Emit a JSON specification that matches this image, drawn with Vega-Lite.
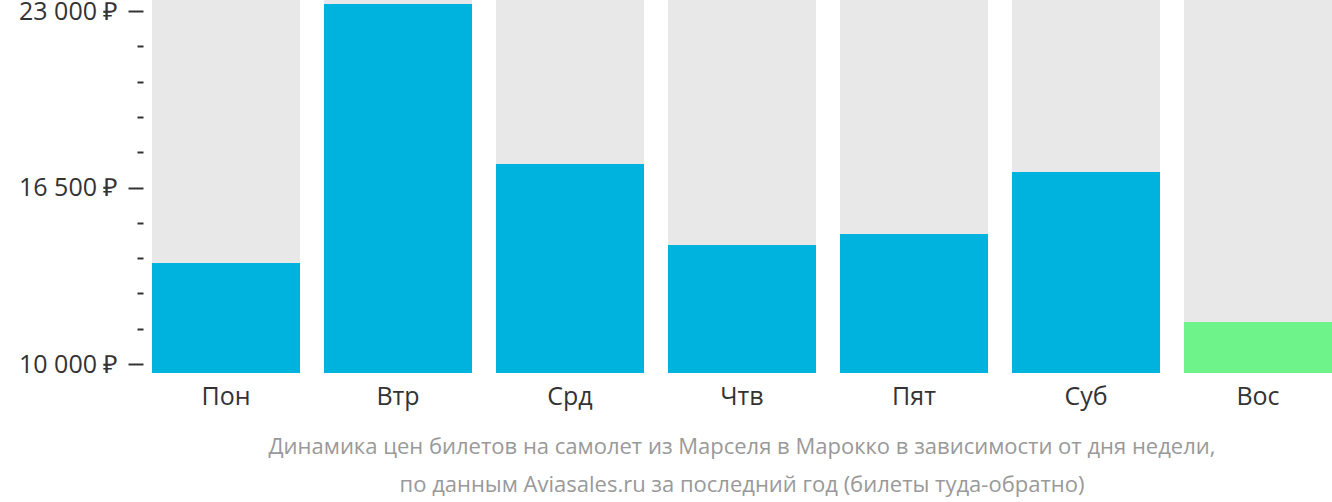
{
  "$schema": "https://vega.github.io/schema/vega-lite/v6.json",
  "width": 1180,
  "height": 373,
  "autosize": "none",
  "padding": {"left": 152, "top": 0, "right": 0, "bottom": 129},
  "background": "white",
  "config": {"view": {"stroke": null}, "font": "Open Sans"},
  "data": {"values": [
    {"day": "Пон", "price": 13720},
    {"day": "Втр", "price": 23258},
    {"day": "Срд", "price": 17365},
    {"day": "Чтв", "price": 14382},
    {"day": "Пят", "price": 14788},
    {"day": "Суб", "price": 17071},
    {"day": "Вос", "price": 11547}
  ]},
  "title": {
    "text": ["Динамика цен билетов на самолет из Марселя в Марокко в зависимости от дня недели,", "по данным Aviasales.ru за последний год (билеты туда-обратно)"],
    "orient": "bottom",
    "anchor": "middle",
    "fontSize": 22,
    "fontWeight": "normal",
    "color": "#999999",
    "lineHeight": 38,
    "offset": 28,
    "font": "Open Sans"
  },
  "encoding": {
    "x": {
      "field": "day", "type": "nominal", "sort": null,
      "scale": {"paddingInner": 0.1395, "paddingOuter": 0},
      "axis": {"title": null, "domain": false, "ticks": false, "labelAngle": 0, "labelFontSize": 25, "labelColor": "#333333", "labelPadding": 11, "labelFont": "Open Sans"}
    }
  },
  "layer": [
    {
      "mark": {"type": "bar", "color": "#e8e8e8"},
      "encoding": {
        "y": {"datum": 23405, "type": "quantitative",
          "scale": {"domain": [9669, 23405], "nice": false, "zero": false},
          "axis": {
            "title": null, "domain": false, "grid": false, "offset": 9,
            "labelOverlap": false,
            "tickCount": 30,
            "values": [10000, 11300, 12600, 13900, 15200, 16500, 17800, 19100, 20400, 21700, 23000],
            "labelExpr": "indexof([10000,16500,23000], datum.value) >= 0 ? replace(format(datum.value, ',d'), ',', ' ') + ' ₽' : ''",
            "labelOffset": {"condition": {"test": "datum.value === 23000", "value": 1}, "value": 0},
            "tickSize": {"condition": {"test": "indexof([10000,16500,23000], datum.value) >= 0", "value": 15}, "value": 6},
            "tickWidth": 2, "tickColor": "#333333",
            "labelFontSize": 25, "labelColor": "#333333", "labelPadding": 10, "labelFont": "Open Sans"
          }
        },
        "y2": {"datum": 9669}
      }
    },
    {
      "mark": {"type": "bar"},
      "encoding": {
        "y": {"field": "price", "type": "quantitative"},
        "y2": {"datum": 9669},
        "color": {"condition": {"test": "datum.day === 'Вос'", "value": "#6ef28a"}, "value": "#00b2de"}
      }
    }
  ]
}
